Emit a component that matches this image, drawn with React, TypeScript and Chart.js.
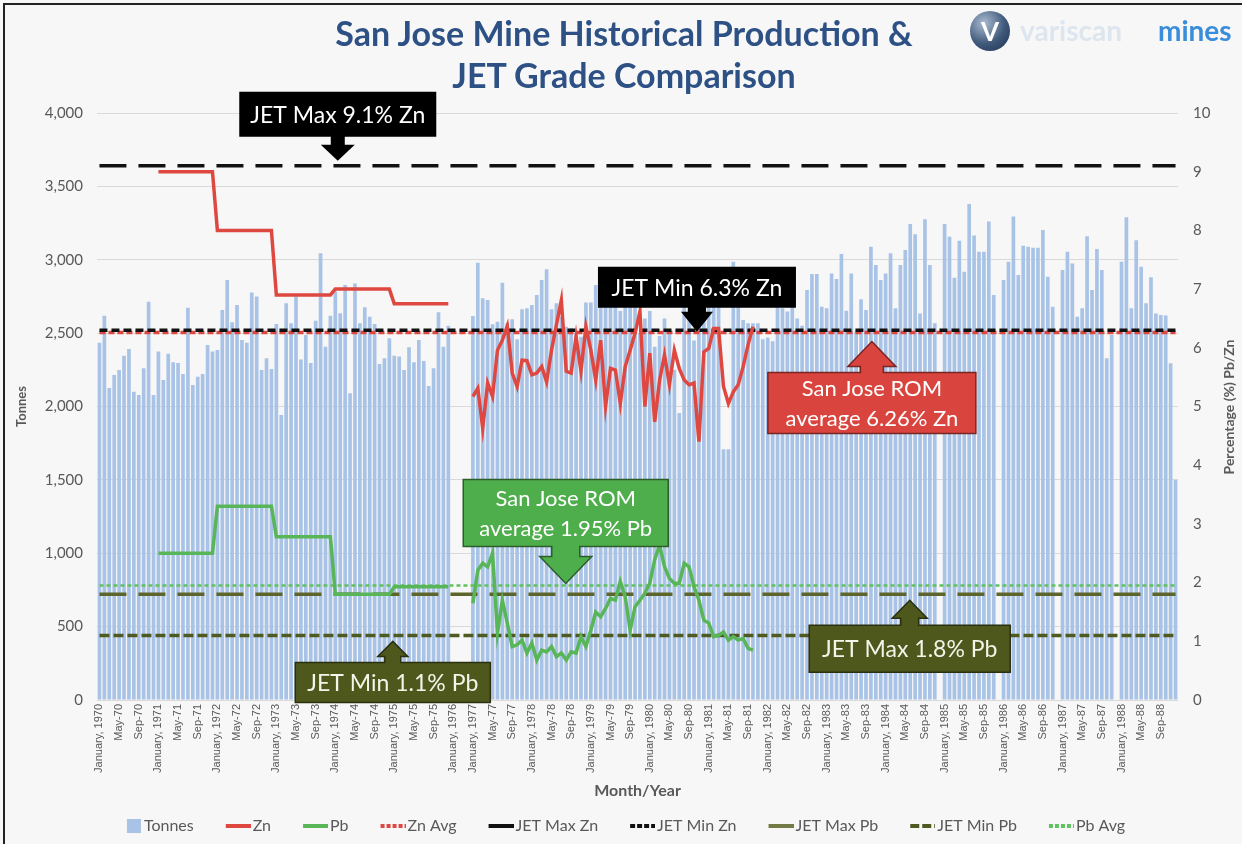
import React, { useEffect, useRef } from 'react';
import { Chart, registerables } from 'chart.js';

Chart.register(...registerables);

// ---------------- categories ----------------
const YEARS = [1970, 1971, 1972, 1973, 1974, 1975, 1976, 1977, 1978, 1979, 1980, 1981, 1982, 1983, 1984, 1985, 1986, 1987, 1988];
const MONTHS_RECORDED = [12, 12, 12, 12, 12, 12, 4, 12, 12, 12, 12, 12, 12, 12, 12, 12, 12, 12, 12];
const MONTH_ABBR = ['Jan', 'Feb', 'Mar', 'Apr', 'May', 'Jun', 'Jul', 'Aug', 'Sep', 'Oct', 'Nov', 'Dec'];

const monthLabel = (year: number, m: number) =>
  m === 0 ? `January, ${year}` : `${MONTH_ABBR[m]}-${String(year % 100).padStart(2, '0')}`;

const CATEGORIES: string[] = [];
YEARS.forEach((y, k) => {
  for (let m = 0; m < MONTHS_RECORDED[k]; m++) CATEGORIES.push(monthLabel(y, m));
});

// ---------------- tonnes (monthly) ----------------
const TONNES_1970_1975 = [
  2435, 2619, 2126, 2215, 2249, 2346, 2392, 2101, 2078, 2260, 2714, 2078,
  2374, 2181, 2360, 2301, 2296, 2222, 2673, 2146, 2203, 2222, 2419, 2374,
  2385, 2658, 2862, 2574, 2692, 2453, 2435, 2776, 2749, 2249, 2328, 2255,
  2562, 1942, 2703, 2567, 2749, 2321, 2487, 2296, 2585, 3044, 2408, 2619,
  2783, 2635, 2828, 2090, 2839, 2567, 2676, 2612, 2562, 2290, 2328, 2465,
  2346, 2340, 2249, 2403, 2301, 2453, 2310, 2140, 2260, 2642, 2408, 2551,
];
const TONNES_1976 = [null, null, null, null];
const TONNES_1977_1982 = [
  2617, 2980, 2737, 2726, 2560, 2578, 2844, 2567, 2594, 2458, 2662, 2669,
  2692, 2760, 2862, 2935, 2662, 2703, 2612, 2544, 2533, 2499, 2476, 2708,
  2708, 2828, 2800, 2720, 2850, 2780, 2650, 2700, 2750, 2820, 2500, 2600,
  2650, 2408, 2480, 2600, 2500, 2250, 1955, 2700, 2800, 2450, 2760, 2800,
  2800, 2800, 2750, 1708, 1708, 2987, 2680, 2590, 2567, 2567, 2567, 2458,
  2470, 2445, 2680, 2669, 2647, 2703, 2600, 2550, 2794, 2903, 2903, 2680,
];
const TONNES_1983_1988 = [
  2669, 2907, 2869, 3039, 2653, 2907, 2510, 2730, 2658, 3089, 2964, 2862,
  2907, 3044, 2669, 2964, 3066, 3244, 3173, 2633, 3276, 2964, 2567, null,
  3244, 3157, 2878, 3130, 2918, 3380, 3166, 3055, 3055, 3260, 2760, null,
  2862, 2987, 3294, 2896, 3096, 3089, 3082, 3082, 3203, 2885, 2680, null,
  2930, 3055, 2975, 2612, 2669, 3160, 2794, 3073, 2930, 2328, 2487, null,
  2987, 3289, 2669, 3133, 2953, 2703, 2880, 2633, 2624, 2620, 2294, 1500,
];
const TONNES = [...TONNES_1970_1975, ...TONNES_1976, ...TONNES_1977_1982, ...TONNES_1983_1988];

// ---------------- grades ----------------
const STEP_YEARS = [1971, 1972, 1973, 1974, 1975];
const ZN_ANNUAL_1971_1975 = [9.0, 8.0, 6.9, 7.0, 6.75];
const PB_ANNUAL_1971_1975 = [2.5, 3.3, 2.78, 1.8, 1.93];

const ZN_MONTHLY_1977_1981 = [
  5.17, 5.31, 4.63, 5.40, 5.17, 5.96, 6.13, 6.37, 5.57, 5.34, 5.79, 5.78,
  5.54, 5.57, 5.68, 5.42, 5.96, 6.39, 6.81, 5.60, 5.57, 6.19, 5.60, 6.36,
  5.96, 5.45, 6.13, 5.00, 5.65, 5.62, 5.05, 5.68, 5.96, 6.25, 6.62, 5.00,
  5.91, 4.74, 5.45, 5.88, 5.37, 5.96, 5.65, 5.45, 5.37, 5.40, 4.40, 5.93,
  5.99, 6.33, 6.33, 5.34, 5.05, 5.25, 5.37, 5.68, 6.05, 6.36,
];
const PB_MONTHLY_1977_1981 = [
  1.65, 2.21, 2.33, 2.27, 2.50, 1.14, 1.70, 1.31, 0.91, 0.94, 1.02, 0.80,
  0.97, 0.68, 0.85, 0.82, 0.91, 0.74, 0.80, 0.68, 0.82, 0.80, 1.08, 0.91,
  1.19, 1.50, 1.42, 1.56, 1.73, 1.70, 2.02, 1.76, 1.19, 1.59, 1.70, 1.82,
  1.99, 2.39, 2.64, 2.27, 2.07, 1.99, 1.99, 2.33, 2.27, 1.93, 1.70, 1.36,
  1.31, 1.08, 1.10, 1.16, 1.02, 1.08, 1.02, 1.05, 0.88, 0.85,
];

const ZN_AVG = 6.26;
const PB_AVG = 1.95;
const JET_MAX_ZN = 9.1;
const JET_MIN_ZN = 6.3;
const JET_MAX_PB = 1.8;
const JET_MIN_PB = 1.1;

// ---------------- builders ----------------
function gradePoints(annual: number[], monthly: number[]) {
  const pts: { x: string; y: number | null }[] = [];
  STEP_YEARS.forEach((yr, k) => {
    pts.push({ x: monthLabel(yr, 0), y: annual[k] });
    pts.push({ x: monthLabel(yr, 11), y: annual[k] });
  });
  pts.push({ x: monthLabel(1976, 0), y: null });
  const start = CATEGORIES.indexOf(monthLabel(1977, 0));
  monthly.forEach((v, k) => pts.push({ x: CATEGORIES[start + k], y: v }));
  return pts;
}
const flat = (v: number) => [
  { x: CATEGORIES[0], y: v },
  { x: CATEGORIES[CATEGORIES.length - 1], y: v },
];

const C = {
  bar: '#a9c3e7',
  zn: '#de4841',
  pb: '#58b558',
  black: '#111111',
  oliveMax: '#5d652a',
  oliveMin: '#4f5a20',
  pbAvg: '#5fc25f',
  text: '#595959',
};

// ---------------- callouts ----------------
const CALLOUTS = [
  { lines: ['JET Max 9.1% Zn'], at: 48.5, value: JET_MAX_ZN, dir: 'down', gap: 5, headLen: 16, headW: 34, shaftLen: 8, shaftW: 14, boxW: 197, boxH: 45, fill: '#000000', stroke: '', color: '#ffffff', size: 23, lineGap: 0 },
  { lines: ['JET Min 6.3% Zn'], at: 121.6, value: JET_MIN_ZN, dir: 'down', gap: -1.5, headLen: 20, headW: 32, shaftLen: 4, shaftW: 18, boxW: 198, boxH: 41, fill: '#000000', stroke: '', color: '#ffffff', size: 23, lineGap: 0 },
  { lines: ['San Jose ROM', 'average 6.26% Zn'], at: 157.2, value: ZN_AVG, dir: 'up', gap: 9, headLen: 25, headW: 48, shaftLen: 6, shaftW: 23, boxW: 208, boxH: 61, fill: '#d9443e', stroke: '#7a2420', color: '#ffffff', size: 22, lineGap: 30 },
  { lines: ['San Jose ROM', 'average 1.95% Pb'], at: 94.9, value: PB_AVG, dir: 'down', gap: 2, headLen: 27, headW: 52, shaftLen: 10, shaftW: 28, boxW: 205, boxH: 67, fill: '#4fae4c', stroke: '#2b5e29', color: '#ffffff', size: 22, lineGap: 30 },
  { lines: ['JET Min 1.1% Pb'], at: 59.7, value: JET_MIN_PB, dir: 'up', gap: 6, headLen: 15, headW: 30, shaftLen: 6, shaftW: 16, boxW: 195, boxH: 40, fill: '#4e581d', stroke: '#2a300f', color: '#f4f4e8', size: 23, lineGap: 0 },
  { lines: ['JET Max 1.8% Pb'], at: 164.9, value: JET_MAX_PB, dir: 'up', gap: 6, headLen: 18, headW: 35, shaftLen: 7, shaftW: 18, boxW: 201, boxH: 47, fill: '#4e581d', stroke: '#2a300f', color: '#f4f4e8', size: 23, lineGap: 0 },
];

const calloutPlugin = {
  id: 'callouts',
  afterDatasetsDraw(chart: any) {
    const { ctx } = chart;
    const xs = chart.scales.x;
    const ys = chart.scales.y1;
    CALLOUTS.forEach((c) => {
      const tx = xs.getPixelForValue(c.at);
      const ly = ys.getPixelForValue(c.value);
      const d = c.dir === 'down' ? 1 : -1;
      const tipY = ly - d * c.gap;
      const headBase = tipY - d * c.headLen;
      const boxNear = headBase - d * c.shaftLen;
      const boxFar = boxNear - d * c.boxH;
      const bx0 = tx - c.boxW / 2;
      const bx1 = tx + c.boxW / 2;
      const sw = c.shaftW / 2;
      const hw = c.headW / 2;
      ctx.save();
      ctx.beginPath();
      ctx.moveTo(bx0, boxFar);
      ctx.lineTo(bx1, boxFar);
      ctx.lineTo(bx1, boxNear);
      ctx.lineTo(tx + sw, boxNear);
      ctx.lineTo(tx + sw, headBase);
      ctx.lineTo(tx + hw, headBase);
      ctx.lineTo(tx, tipY);
      ctx.lineTo(tx - hw, headBase);
      ctx.lineTo(tx - sw, headBase);
      ctx.lineTo(tx - sw, boxNear);
      ctx.lineTo(bx0, boxNear);
      ctx.closePath();
      ctx.fillStyle = c.fill;
      ctx.fill();
      if (c.stroke) {
        ctx.strokeStyle = c.stroke;
        ctx.lineWidth = 1.5;
        ctx.stroke();
      }
      ctx.fillStyle = c.color;
      ctx.font = `${c.size}px Lato, 'Open Sans', sans-serif`;
      ctx.textAlign = 'center';
      ctx.textBaseline = 'middle';
      const cy = (boxNear + boxFar) / 2;
      const n = c.lines.length;
      c.lines.forEach((t, k) => ctx.fillText(t, tx, cy + (k - (n - 1) / 2) * c.lineGap + 1));
      ctx.restore();
    });
  },
};

// legend sample images: sample drawn in the right-hand part
const SAMPLE_W = 55;
function makeSample(kind: 'box' | 'line', color: string, dash: number[] = []) {
  const cv = document.createElement('canvas');
  cv.width = SAMPLE_W;
  cv.height = 14;
  const g = cv.getContext('2d')!;
  if (kind === 'box') {
    g.fillStyle = color;
    g.fillRect(SAMPLE_W - 15, 0, 14, 14);
  } else {
    g.strokeStyle = color;
    g.lineWidth = 4;
    g.setLineDash(dash);
    g.beginPath();
    g.moveTo(SAMPLE_W - 25, 7);
    g.lineTo(SAMPLE_W, 7);
    g.stroke();
  }
  return cv;
}

export default function App() {
  const ref = useRef<HTMLCanvasElement>(null);

  useEffect(() => {
    if (!ref.current) return;
    Chart.defaults.font.family = "Lato, 'Open Sans', sans-serif";

    const samples = [
      makeSample('box', C.bar),
      makeSample('line', C.zn),
      makeSample('line', C.pb),
      makeSample('line', C.zn, [4, 2]),
      makeSample('line', C.black),
      makeSample('line', C.black, [5, 2]),
      makeSample('line', '#737a44'),
      makeSample('line', C.oliveMin, [9, 3]),
      makeSample('line', C.pbAvg, [4, 2]),
    ];

    const lineBase = { type: 'line', pointRadius: 0, pointHoverRadius: 0, fill: false, tension: 0, yAxisID: 'y1', spanGaps: false };

    const chart = new Chart(ref.current, {
      type: 'bar',
      data: {
        labels: CATEGORIES,
        datasets: [
          { type: 'bar', label: 'Tonnes', data: TONNES, yAxisID: 'y', backgroundColor: C.bar, barPercentage: 0.75, categoryPercentage: 1, order: 20 },
          { ...lineBase, label: 'Zn', data: gradePoints(ZN_ANNUAL_1971_1975, ZN_MONTHLY_1977_1981), borderColor: C.zn, borderWidth: 3.5, order: 1 },
          { ...lineBase, label: 'Pb', data: gradePoints(PB_ANNUAL_1971_1975, PB_MONTHLY_1977_1981), borderColor: C.pb, borderWidth: 3.5, order: 1 },
          { ...lineBase, label: 'Zn Avg', data: flat(ZN_AVG), borderColor: C.zn, borderWidth: 3.5, borderDash: [6, 3], order: 8 },
          { ...lineBase, label: 'JET Max Zn', data: flat(JET_MAX_ZN), borderColor: C.black, borderWidth: 3.5, borderDash: [27, 12], order: 5 },
          { ...lineBase, label: 'JET Min Zn', data: flat(JET_MIN_ZN), borderColor: C.black, borderWidth: 3.5, borderDash: [8, 4], order: 5 },
          { ...lineBase, label: 'JET Max Pb', data: flat(JET_MAX_PB), borderColor: C.oliveMax, borderWidth: 3.5, borderDash: [27, 12], order: 5 },
          { ...lineBase, label: 'JET Min Pb', data: flat(JET_MIN_PB), borderColor: C.oliveMin, borderWidth: 3.5, borderDash: [10, 4], order: 5 },
          { ...lineBase, label: 'Pb Avg', data: flat(PB_AVG), borderColor: C.pbAvg, borderWidth: 2.5, borderDash: [4, 3], order: 6 },
        ] as any,
      },
      options: {
        responsive: false,
        animation: false,
        devicePixelRatio: 1,
        layout: { padding: { top: 113, left: 0, right: 24, bottom: 0 } },
        plugins: {
          tooltip: { enabled: false },
          title: { display: false },
          legend: {
            display: true,
            position: 'bottom',
            align: 'center',
            labels: {
              usePointStyle: true,
              pointStyleWidth: 43,
              padding: 8,
              font: { size: 16 },
              color: C.text,
              generateLabels: (ch: any) =>
                ch.data.datasets.map((ds: any, i: number) => ({
                  text: ds.label,
                  pointStyle: samples[i],
                  datasetIndex: i,
                  hidden: false,
                  lineWidth: 0,
                  fillStyle: 'transparent',
                  strokeStyle: 'transparent',
                  fontColor: C.text,
                })),
            },
          },
        },
        scales: {
          x: {
            type: 'category',
            offset: true,
            grid: { display: false, drawTicks: false },
            border: { display: false },
            ticks: {
              autoSkip: false,
              maxRotation: 90,
              minRotation: 90,
              padding: 4,
              color: C.text,
              font: { family: "'Liberation Sans Narrow', 'Liberation Sans', sans-serif", size: 11 },
              callback: (_v: any, i: number) => (i % 4 === 0 ? CATEGORIES[i] : ''),
            },
            title: { display: true, text: 'Month/Year', color: C.text, font: { size: 16, weight: 'bold' }, padding: { top: 0, bottom: 10 } },
            afterFit: (s: any) => { s.height = 110; },
          },
          y: {
            position: 'left',
            min: 0,
            max: 4000,
            ticks: { stepSize: 500, padding: 14, color: C.text, font: { size: 15 }, callback: (v: any) => Number(v).toLocaleString('en-US') },
            grid: { color: '#d9d9d9', lineWidth: 1, drawTicks: false },
            border: { display: false },
            title: { display: true, text: 'Tonnes', color: C.text, font: { size: 13, weight: 'bold' }, padding: { top: 14, bottom: 0 } },
            afterFit: (s: any) => { s.width = 97; },
          },
          y1: {
            position: 'right',
            min: 0,
            max: 10,
            ticks: { stepSize: 1, padding: 15, color: C.text, font: { size: 15 } },
            grid: { display: false, drawTicks: false },
            border: { display: false },
            afterFit: (s: any) => { s.width = 40; },
          },
        },
      } as any,
      plugins: [calloutPlugin],
    });
    return () => chart.destroy();
  }, []);

  return (
    <div style={{ position: 'fixed', left: 0, top: 0, width: 1242, height: 844, background: '#f7f7f7', overflow: 'hidden' }}>
      <canvas ref={ref} width={1242} height={844} style={{ position: 'absolute', left: 0, top: 0 }} />
      <div style={{ position: 'absolute', left: 3, top: 3, width: 1250, height: 900, borderLeft: '2px solid #222', borderTop: '2px solid #222' }} />
      <div style={{ position: 'absolute', left: 0, top: 12, width: 1248, textAlign: 'center', font: "bold 34px Lato, 'Open Sans', sans-serif", lineHeight: '42px', color: '#2d5185' }}>
        San Jose Mine Historical Production &amp;
        <br />
        JET Grade Comparison
      </div>
      <div style={{ position: 'absolute', left: 970, top: 11, width: 40, height: 40, borderRadius: '50%', background: 'radial-gradient(circle at 35% 30%, #a9bdd2, #3f5879 55%, #1d3150)', display: 'flex', alignItems: 'center', justifyContent: 'center', color: '#ffffff', font: "bold 26px Lato, sans-serif" }}>V</div>
      <div style={{ position: 'absolute', left: 1020, top: 10, font: "bold 28px Lato, sans-serif", color: '#dde5ee', lineHeight: '40px' }}>variscan</div>
      <div style={{ position: 'absolute', left: 1158, top: 10, font: "bold 28px Lato, sans-serif", color: '#3a8ddb', lineHeight: '40px' }}>mines</div>
      <div style={{ position: 'absolute', left: 1228, top: 407, transform: 'translate(-50%, -50%) rotate(-90deg)', whiteSpace: 'nowrap', font: "bold 14px Lato, sans-serif", color: C.text }}>Percentage (%) Pb/Zn</div>
    </div>
  );
}
